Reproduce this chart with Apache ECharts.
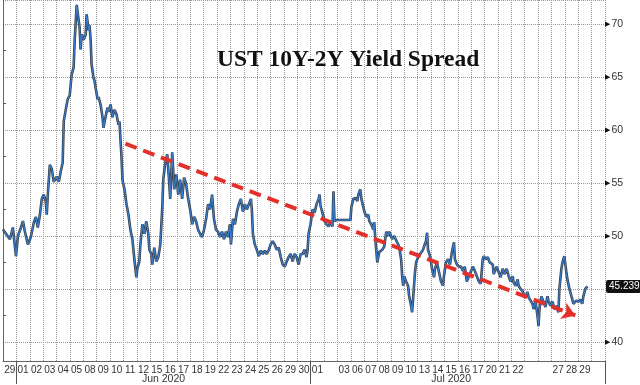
<!DOCTYPE html>
<html>
<head>
<meta charset="utf-8">
<script src="https://cdn.jsdelivr.net/npm/echarts@6/dist/echarts.min.js"></script>
<style>
html,body{margin:0;padding:0;background:#fff;}
#chart{width:640px;height:385px;}
</style>
</head>
<body>
<div id="chart"></div>
<script>
// ---- data ----
const titleText = 'UST 10Y-2Y Yield Spread';
const days = [
  '2020-05-29',
  '2020-06-01','2020-06-02','2020-06-03','2020-06-04','2020-06-05',
  '2020-06-08','2020-06-09','2020-06-10','2020-06-11','2020-06-12',
  '2020-06-15','2020-06-16','2020-06-17','2020-06-18','2020-06-19',
  '2020-06-22','2020-06-23','2020-06-24','2020-06-25','2020-06-26',
  '2020-06-29','2020-06-30',
  '2020-07-01','2020-07-02','2020-07-03',
  '2020-07-06','2020-07-07','2020-07-08','2020-07-09','2020-07-10',
  '2020-07-13','2020-07-14','2020-07-15','2020-07-16','2020-07-17',
  '2020-07-20','2020-07-21','2020-07-22','2020-07-23','2020-07-24',
  '2020-07-27','2020-07-28','2020-07-29'
];
const hiddenDayLabels = ['2020-07-02','2020-07-23','2020-07-24'];
const monthLabels = {'2020-06':'Jun 2020','2020-07':'Jul 2020'};
const emptySlotsAfter = 1;
const yTickLabels = [40, 50, 55, 60, 65, 70];

// intraday position (trading-day index, fractional) and spread (bp)
const spreadTime = [
 0.00,0.22,0.52,0.74,0.89,0.97,1.12,1.34,1.49,1.64,1.86,2.08,2.31,2.46,2.60,2.75,2.90,3.05,3.20,3.27,
 3.35,3.50,3.65,3.79,4.02,4.17,4.32,4.46,4.54,4.69,4.84,4.99,5.13,5.28,5.36,5.51,5.58,5.73,5.80,5.88,
 6.03,6.18,6.25,6.40,6.47,6.55,6.62,6.77,6.85,6.92,7.07,7.14,7.29,7.44,7.51,7.66,7.81,7.89,8.04,8.18,
 8.33,8.48,8.63,8.71,8.78,8.85,8.93,9.08,9.23,9.38,9.52,9.67,9.82,9.97,10.04,10.19,10.27,10.42,10.57,10.71,
 10.86,10.94,11.09,11.16,11.31,11.46,11.61,11.76,11.90,11.98,12.13,12.28,12.43,12.50,12.65,12.80,12.95,13.10,13.24,13.39,
 13.54,13.69,13.84,13.99,14.14,14.29,14.43,14.58,14.73,14.88,15.03,15.18,15.33,15.48,15.63,15.77,15.92,16.07,16.22,16.37,
 16.52,16.67,16.82,16.96,17.04,17.19,17.34,17.49,17.63,17.78,17.93,18.08,18.23,18.38,18.53,18.60,18.68,18.82,18.97,19.12,
 19.27,19.42,19.57,19.72,19.87,20.01,20.16,20.31,20.46,20.61,20.76,20.91,21.06,21.21,21.35,21.50,21.65,21.80,21.95,22.10,
 22.25,22.40,22.54,22.69,22.77,22.84,22.99,23.14,23.29,23.44,23.59,23.66,23.74,23.88,24.03,24.18,24.33,24.48,24.63,24.70,
 24.78,24.93,25.97,26.04,26.19,26.34,26.49,26.56,26.71,26.79,26.94,27.01,27.16,27.31,27.38,27.53,27.68,27.75,27.83,27.98,
 28.13,28.35,28.50,28.65,28.79,28.87,29.09,29.24,29.46,29.61,29.76,29.84,29.91,29.99,30.13,30.28,30.36,30.51,30.58,30.65,
 30.80,30.88,31.03,31.18,31.40,31.47,31.62,31.70,31.77,31.92,32.07,32.22,32.29,32.44,32.59,32.74,32.89,32.96,33.11,33.26,
 33.41,33.56,33.71,33.78,33.93,34.08,34.23,34.38,34.52,34.67,34.75,34.90,35.12,35.27,35.42,35.57,35.71,35.86,35.94,36.09,
 36.24,36.38,36.61,36.68,36.90,37.05,37.20,37.35,37.50,37.65,37.80,37.95,38.10,38.17,38.32,38.47,38.54,38.69,38.84,38.91,
 39.06,39.21,39.29,39.43,39.58,39.66,39.81,39.96,40.03,40.10,40.25,40.40,40.55,40.70,40.77,40.92,41.07,41.22,41.37,41.52,
 41.59,41.74,41.82,41.96,42.11,42.19,42.34,42.56,42.63,42.86,43.01,43.15,43.30,43.38,43.53,43.68
];
const spreadValue = [
 50.6,50.2,49.7,50.8,49.0,48.1,50.0,50.8,51.4,50.4,49.2,49.9,51.3,51.8,50.8,51.9,53.5,53.9,53.2,52.0,
 53.9,56.7,56.3,55.1,55.6,55.1,56.1,56.9,60.8,61.9,62.9,63.3,65.2,65.9,68.5,71.8,71.1,69.6,67.6,69.0,
 68.5,69.0,70.9,69.4,69.9,68.5,66.2,64.9,64.6,64.0,62.9,63.1,62.4,61.2,60.2,61.2,62.1,61.7,62.4,61.2,
 61.9,61.5,60.5,60.8,59.1,57.7,55.3,54.4,53.0,52.0,50.6,49.7,47.8,46.1,46.9,47.6,49.2,51.1,50.2,51.4,
 50.2,48.7,48.3,47.3,48.9,47.6,48.0,49.2,52.5,55.3,56.9,57.7,54.9,53.5,57.9,54.4,55.8,53.9,55.3,53.5,
 55.5,54.9,53.5,52.5,51.1,51.8,51.4,50.6,50.2,49.9,50.6,51.6,53.0,52.5,53.9,51.6,50.6,50.4,49.9,50.4,
 49.7,50.4,49.9,51.1,49.2,51.6,51.1,52.3,53.0,53.5,52.3,53.0,52.5,53.0,53.5,52.5,50.2,49.2,48.7,48.1,
 48.6,48.3,48.6,48.3,48.7,49.2,49.5,49.2,48.7,48.9,48.0,47.3,47.1,47.6,48.0,48.3,47.6,48.3,48.0,47.3,
 48.3,48.3,48.7,48.0,48.7,50.2,51.1,52.5,52.2,53.0,53.5,53.9,52.8,52.2,51.4,51.1,50.9,51.3,50.9,54.2,
 51.4,51.5,51.5,52.7,53.5,53.6,53.3,53.9,54.4,53.5,52.7,52.3,51.8,52.0,51.4,51.1,50.6,51.3,49.7,47.5,
 48.5,48.7,49.0,50.4,50.0,50.4,49.7,50.0,49.4,49.0,47.8,46.2,45.3,46.2,45.7,45.3,44.3,43.4,42.8,44.0,
 46.6,47.5,48.0,48.3,48.7,49.0,49.5,50.3,48.7,48.1,46.9,46.1,46.9,47.5,46.6,45.7,45.3,46.2,47.5,47.8,
 47.3,48.5,49.4,47.8,47.3,47.1,47.1,46.7,47.1,45.7,45.6,46.4,47.1,46.7,46.2,45.7,45.5,47.8,48.1,47.8,
 48.0,47.5,47.3,46.4,47.1,46.6,46.1,46.9,46.4,46.9,46.2,45.7,46.2,45.6,45.3,45.9,45.3,45.0,44.8,44.5,
 44.3,44.7,44.2,44.3,43.6,43.1,43.8,42.4,41.5,43.1,44.3,43.8,43.3,44.3,43.9,43.4,43.8,43.1,43.4,42.8,
 45.0,46.9,47.5,48.1,46.6,45.9,45.0,44.0,43.6,43.9,43.8,44.0,43.6,44.3,45.0,45.239
];
const lastValue = 45.239;
// trend annotation (day index, spread)
const trendStart = [9.15, 58.7];
const trendEnd = [42.78, 42.5];
const yMin = 38.2, yMax = 72.26;

// ---- build ----
const nSlots = days.length + emptySlotsAfter;
const categories = days.concat(new Array(emptySlotsAfter).fill(''));
const dayLabel = d => (d === '' || hiddenDayLabels.indexOf(d) >= 0) ? '' : d.slice(8, 10);
const monthStartIdx = [];
for (let i = 1; i < days.length; i++) {
  if (days[i].slice(0, 7) !== days[i - 1].slice(0, 7)) monthStartIdx.push(i);
}
const monthCenters = [];
Object.keys(monthLabels).forEach(k => {
  let first = -1, last = -1;
  days.forEach((d, i) => { if (d.slice(0, 7) === k) { if (first < 0) first = i; last = i; } });
  monthCenters.push({c: (first + last + 1) / 2, label: monthLabels[k]});
});
const lineData = spreadTime.map((t, i) => [t, spreadValue[i]]);

const labelFont = 'Liberation Sans';
const chart = echarts.init(document.getElementById('chart'), null, {renderer: 'canvas'});
chart.setOption({
  animation: false,
  backgroundColor: '#ffffff',
  title: {
    text: titleText,
    left: 212, top: 43,
    textStyle: {fontFamily: 'Liberation Serif', fontWeight: 'bold', fontSize: 23.5, color: '#111'}
  },
  grid: {left: 0, right: 35, top: 0, bottom: 23},
  xAxis: [
    {
      type: 'category', data: categories, boundaryGap: true,
      axisLine: {show: true, lineStyle: {color: '#666', width: 1}},
      axisTick: {show: true, length: 23, interval: (idx) => monthStartIdx.indexOf(idx) >= 0,
                 lineStyle: {color: '#555', width: 1}},
      axisLabel: {interval: 0, margin: 4, fontFamily: labelFont, fontSize: 10, color: '#333',
                  formatter: v => dayLabel(v)},
      splitLine: {show: true, interval: 0, lineStyle: {color: '#9a9a9a', type: 'dotted', width: 1}}
    },
    {type: 'value', min: 0, max: nSlots, show: false},
    {
      type: 'value', min: 0, max: nSlots, interval: 0.5, position: 'bottom', offset: 10,
      axisLine: {show: false}, axisTick: {show: false}, splitLine: {show: false},
      axisLabel: {margin: 3, fontFamily: labelFont, fontSize: 10.5, color: '#333', showMinLabel: true, showMaxLabel: true,
        formatter: v => { const m = monthCenters.find(o => Math.abs(o.c - v) < 1e-6); return m ? m.label : ''; }}
    }
  ],
  yAxis: {
    type: 'value', position: 'right', min: yMin, max: yMax,
    minInterval: 5, maxInterval: 5, splitNumber: 7,
    axisLine: {show: true, lineStyle: {color: '#666'}},
    axisTick: {show: false},
    minorTick: {show: true, splitNumber: 2, length: 3, lineStyle: {color: '#555'}},
    axisLabel: {
      margin: 0, fontFamily: labelFont, fontSize: 10.5, color: '#333',
      formatter: v => yTickLabels.some(t => Math.abs(t - v) < 1e-6) ? '{m|\u25B6}{n|' + Math.round(v) + '}' : '',
      rich: {m: {fontSize: 7, color: '#111', fontFamily: 'DejaVu Sans'}, n: {fontSize: 10.5, color: '#333', fontFamily: labelFont, padding: [0, 0, 0, 1]}}
    },
    splitLine: {show: true, lineStyle: {color: '#999', type: 'dotted', width: 1}}
  },
  series: [
    {
      type: 'line', xAxisIndex: 1, data: lineData, showSymbol: false, symbol: 'none',
      lineStyle: {color: '#1e2a36', width: 2.6, opacity: 0.9}, silent: true, z: 2
    },
    {
      type: 'line', xAxisIndex: 1, data: lineData, showSymbol: false, symbol: 'none',
      lineStyle: {color: '#3a7ccc', width: 1.2}, silent: true, z: 3,
      markLine: {
        silent: true, animation: false, symbol: ['none', 'none'],
        data: [
          [
            {coord: trendStart, symbol: 'none',
             lineStyle: {color: '#e3302b', width: 4, type: [12, 7], opacity: 1}, label: {show: false}},
            {coord: trendEnd, symbol: 'arrow', symbolSize: [13, 13]}
          ],
          {
            yAxis: lastValue, lineStyle: {color: 'rgba(0,0,0,0)', width: 0},
            label: {show: true, position: 'end', distance: 1, formatter: String(lastValue),
                    backgroundColor: '#111', color: '#fff', fontFamily: labelFont, fontSize: 10,
                    padding: [2, 2, 1, 3], borderRadius: 2, opacity: 1}
          }
        ]
      }
    }
  ]
});
</script>
</body>
</html>
